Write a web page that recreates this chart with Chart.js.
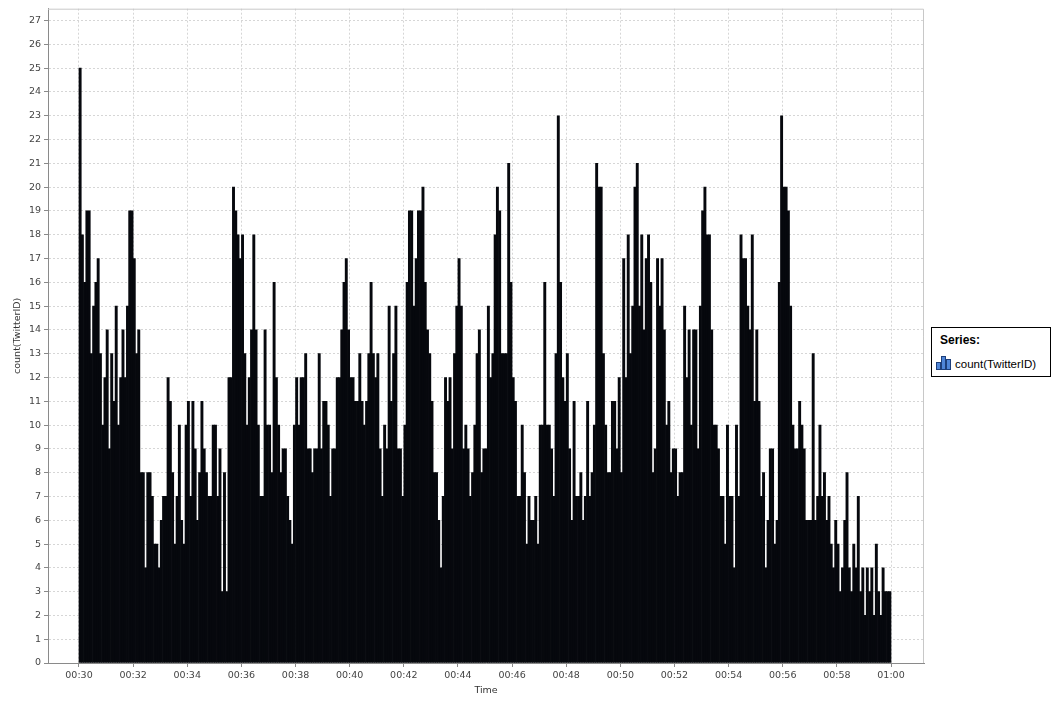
<!DOCTYPE html>
<html>
<head>
<meta charset="utf-8">
<script src="https://cdn.jsdelivr.net/npm/chart.js@4/dist/chart.umd.min.js"></script>
<style>
  html, body { margin: 0; padding: 0; background: #ffffff; }
  #wrap { position: relative; width: 1051px; height: 704px; }
  #legend {
    position: absolute; left: 931px; top: 327px; width: 120px; height: 50px;
    box-sizing: border-box; border: 1px solid #000; background: #fff;
    font-family: "Liberation Sans", Arial, sans-serif; color: #000;
  }
  #legend .ttl { position: absolute; left: 8px; top: 5px; font-weight: bold; font-size: 12px; }
  #legend .item { position: absolute; left: 4px; top: 27px; font-size: 11.5px; white-space: nowrap; }
  #legend svg { vertical-align: -2px; margin-right: 4px; }
</style>
</head>
<body>
<div id="wrap">
  <canvas id="c" width="1051" height="704"></canvas>
  <div id="legend">
    <div class="ttl">Series:</div>
    <div class="item"><svg width="15" height="15" viewBox="0 0 15 15">
      <rect x="0.5" y="7.5" width="4" height="7" fill="#4f86d8" stroke="#1d3f7a"/>
      <rect x="5.5" y="1.5" width="4" height="13" fill="#4f86d8" stroke="#1d3f7a"/>
      <rect x="10.5" y="4.5" width="4" height="10" fill="#4f86d8" stroke="#1d3f7a"/>
    </svg>count(TwitterID)</div>
  </div>
</div>
<script>
// ---- data: tweets counted per 5-second bin, 00:30:00 to 01:00:00 ----
const seriesName = 'count(TwitterID)';
const startMinute = 30;       // 00:30
const binSeconds = 5;
const counts = [
  25,18,16,19,19,13,15,16,17,13,10,12,14,9,13,11,15,10,12,14,12,15,19,19,
  17,13,14,8,8,4,8,
  8,7,5,5,4,6,7,7,12,11,8,5,7,10,6,5,10,11,7,11,9,6,8,11,9,8,7,7,10,10,7,9,3,
  8,3,12,12,20,19,18,17,18,13,10,12,14,18,14,10,7,7,14,10,10,8,16,12,10,8,9,9,7,6,5,10,12,
  10,12,12,13,9,9,8,9,9,13,9,11,11,10,7,9,9,12,12,14,16,17,14,12,12,11,11,13,11,10,11,13,16,
  13,12,13,9,7,10,9,15,11,13,15,9,9,7,10,16,19,19,15,17,19,19,20,16,14,13,11,8,8,6,4,7,12,
  11,12,9,13,15,17,15,9,10,9,7,8,10,13,14,8,9,9,15,12,13,18,20,19,13,13,13,21,16,12,11,7,7,
  10,8,5,7,6,6,7,5,10,10,16,10,10,9,7,13,23,16,12,11,13,9,6,11,7,7,8,6,7,11,7,8,
  10,21,20,20,13,10,8,8,11,11,9,12,8,17,12,18,13,15,20,21,15,18,14,17,18,16,8,9,17,15,17,14,10,
  11,8,9,9,7,8,8,15,12,14,10,14,14,9,15,19,20,18,18,14,10,10,9,7,7,5,10,7,7,4,10,7,18,
  17,17,15,14,18,11,14,11,7,8,4,6,9,9,5,6,16,23,20,20,19,15,10,9,9,11,10,9,6,6,6,13,6,
  7,10,7,8,6,7,5,4,6,5,3,4,6,8,4,3,5,4,7,3,4,2,4,3,4,2,5,3,2,4,3,3,3
];
const tickMinutes = [30,32,34,36,38,40,42,44,46,48,50,52,54,56,58,60];
const tickLabels = ['00:30','00:32','00:34','00:36','00:38','00:40','00:42','00:44',
                    '00:46','00:48','00:50','00:52','00:54','00:56','00:58','01:00'];
const yTickValues = [0,1,2,3,4,5,6,7,8,9,10,11,12,13,14,15,16,17,18,19,20,21,22,23,24,25,26,27];

const points = counts.map((c, i) => ({ x: startMinute + (i + 0.5) * binSeconds / 60, y: c }));

const gridColor = '#d6d6d6';
const axisColor = '#8a8a8a';
const tickFont = { family: '"DejaVu Sans", sans-serif', size: 9.5 };
const titleFont = { family: '"DejaVu Sans", sans-serif', size: 9.5 };

const plotFrame = {
  id: 'plotFrame',
  afterDraw(chart) {
    const a = chart.chartArea, ctx = chart.ctx;
    ctx.save();
    ctx.strokeStyle = '#c8c8c8';
    ctx.lineWidth = 1;
    ctx.beginPath();
    ctx.moveTo(a.left, a.top + 0.5);
    ctx.lineTo(a.right - 0.5, a.top + 0.5);
    ctx.lineTo(a.right - 0.5, a.bottom);
    ctx.stroke();
    ctx.restore();
  }
};

new Chart(document.getElementById('c'), {
  type: 'bar',
  data: {
    datasets: [{
      label: seriesName,
      data: points,
      backgroundColor: '#06080d',
      borderWidth: 0,
      barPercentage: 1,
      categoryPercentage: 1
    }]
  },
  options: {
    responsive: false,
    animation: false,
    devicePixelRatio: 1,
    layout: { padding: { top: 5, right: 127, left: 0, bottom: 0 } },
    plugins: { legend: { display: false }, tooltip: { enabled: false } },
    scales: {
      x: {
        type: 'linear',
        offset: false,
        min: 28.8547,
        max: 61.2192,
        afterBuildTicks: s => { s.ticks = tickMinutes.map(v => ({ value: v })); },
        afterFit: s => { s.height = 41; },
        ticks: {
          autoSkip: false, maxRotation: 0, padding: 3,
          color: '#444', font: tickFont,
          callback: v => tickLabels[tickMinutes.indexOf(v)]
        },
        grid: { offset: false, color: gridColor, tickColor: axisColor, tickLength: 4, lineWidth: 1 },
        border: { color: axisColor, width: 1, dash: [2, 2] },
        title: { display: true, text: 'Time', color: '#333', font: titleFont, padding: { top: 0, bottom: 8 } }
      },
      y: {
        min: 0,
        max: 27.5,
        afterBuildTicks: s => { s.ticks = yTickValues.map(v => ({ value: v })); },
        afterFit: s => { s.width = 48; },
        ticks: { autoSkip: false, padding: 3, color: '#444', font: tickFont },
        grid: { color: gridColor, tickColor: axisColor, tickLength: 4, lineWidth: 1 },
        border: { color: axisColor, width: 1, dash: [2, 2] },
        title: { display: true, text: 'count(TwitterID)', color: '#333', font: titleFont, padding: { top: 12, bottom: 0 } }
      }
    }
  },
  plugins: [plotFrame]
});
</script>
</body>
</html>
